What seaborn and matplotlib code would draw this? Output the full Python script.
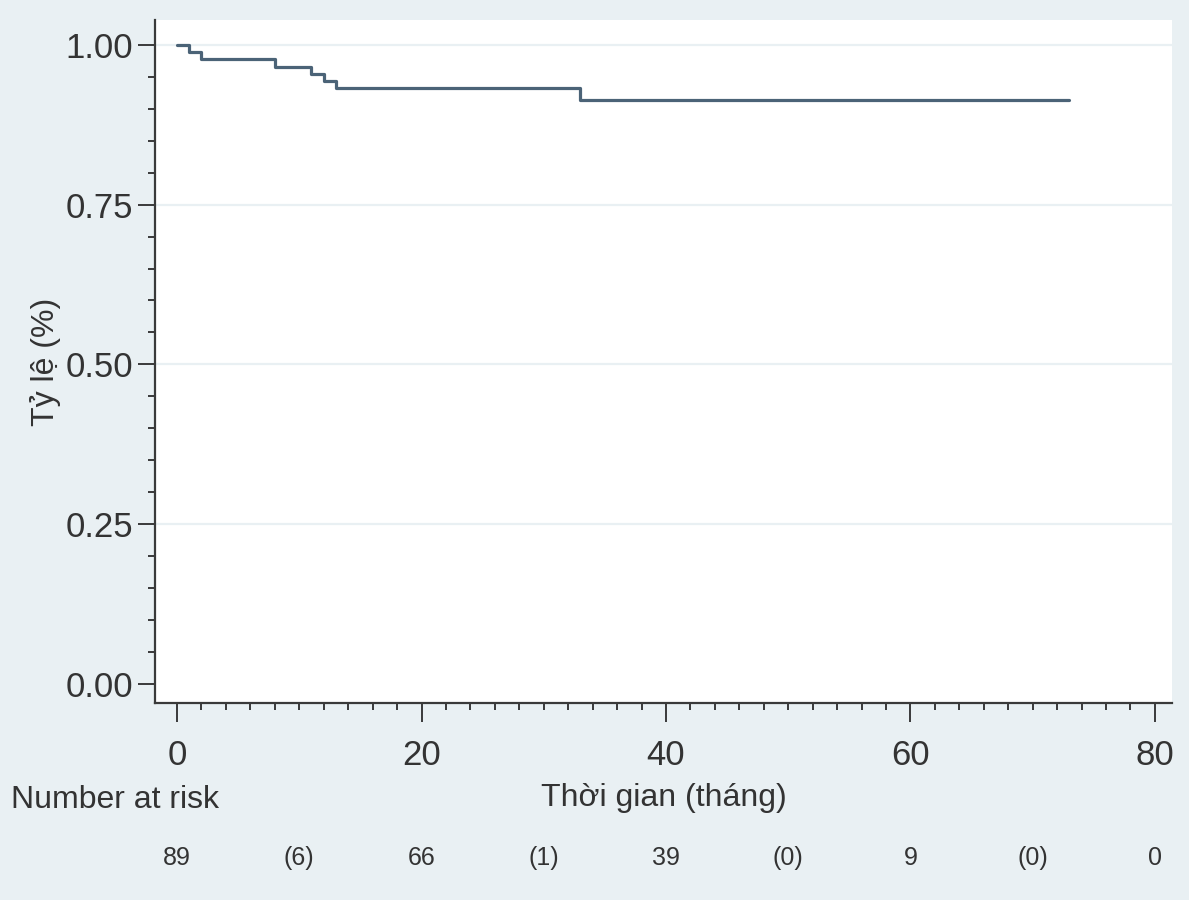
import pandas as pd
import matplotlib.pyplot as plt
import matplotlib.transforms as mtransforms
from matplotlib.ticker import MultipleLocator
import seaborn as sns

# Kaplan-Meier steps
time_months = [0, 1, 2, 8, 11, 12, 13, 33, 73]
survival = [1.0, 0.989, 0.978, 0.966, 0.955, 0.944, 0.933, 0.913, 0.913]

# number at risk row (events in brackets)
risk_x = [0, 10, 20, 30, 40, 50, 60, 70, 80]
risk_labels = ['89', '(6)', '66', '(1)', '39', '(0)', '9', '(0)', '0']

y_ticks = [0.0, 0.25, 0.5, 0.75, 1.0]
x_ticks = [0, 20, 40, 60, 80]

bg = '#e9f0f3'
ink = '#333333'
line_col = '#4b6377'

sns.set_style('white')
plt.rcParams['font.family'] = ['Liberation Sans', 'DejaVu Sans']

df = pd.DataFrame({'t': time_months, 's': survival})

fig = plt.figure(figsize=(11.89, 9), dpi=100, facecolor=bg)
ax = fig.add_axes([0.1304, 0.2189, 0.8553, 0.7589])
ax.set_facecolor('white')

for yv in y_ticks[1:]:
    ax.axhline(yv, color=bg, lw=1.6, zorder=0)

sns.lineplot(data=df, x='t', y='s', drawstyle='steps-post', color=line_col,
             lw=2.3, ax=ax, legend=False)

ax.set_xlim(-1.8, 81.4)
ax.set_ylim(-0.03, 1.039)
ax.set_xticks(x_ticks)
ax.set_yticks(y_ticks)
ax.set_yticklabels([f'{v:.2f}' for v in y_ticks])
ax.xaxis.set_minor_locator(MultipleLocator(2))
ax.yaxis.set_minor_locator(MultipleLocator(0.05))

for side in ['top', 'right']:
    ax.spines[side].set_visible(False)
for side in ['left', 'bottom']:
    ax.spines[side].set_color('#3a3a3a')
    ax.spines[side].set_linewidth(1.6)

ax.tick_params(axis='both', which='both', bottom=True, left=True, top=False, right=False)
ax.tick_params(axis='both', which='major', direction='out', length=10, width=1.4,
               color='#3a3a3a', labelsize=25, labelcolor=ink)
ax.tick_params(axis='both', which='minor', direction='out', length=5, width=1.4,
               color='#3a3a3a')
ax.tick_params(axis='x', which='major', length=14, pad=12)
ax.tick_params(axis='y', which='major', length=12, pad=4)

ax.set_xlabel('Thời gian (tháng)', fontsize=23, color=ink)
ax.xaxis.set_label_coords(0.5, -0.139)
ax.xaxis.label.set_va('center')
ax.set_ylabel('Tỷ lệ (%)', fontsize=23, color=ink)
ax.yaxis.set_label_coords(-0.108, 0.5)
ax.yaxis.label.set_va('center')

fig.text(0.009, 0.111, 'Number at risk', fontsize=23, color=ink, va='center', ha='left')

trans = mtransforms.blended_transform_factory(ax.transData, fig.transFigure)
for xv, lab in zip(risk_x, risk_labels):
    ax.text(xv, 0.0467, lab, transform=trans, ha='center', va='center',
            fontsize=18, color=ink,
            family=['Liberation Sans Narrow', 'Liberation Sans', 'DejaVu Sans'])

fig.savefig('out.png', dpi=100, facecolor=bg)
